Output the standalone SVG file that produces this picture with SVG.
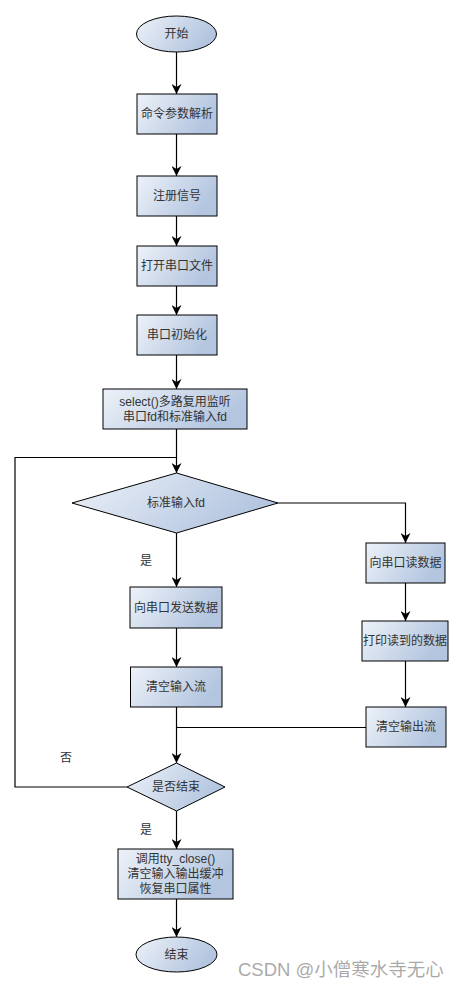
<svg xmlns="http://www.w3.org/2000/svg" width="464" height="992" viewBox="0 0 464 992">
<defs>
<linearGradient id="g" x1="0" y1="0" x2="1" y2="0.35">
<stop offset="0" stop-color="#edf2f9"/>
<stop offset="1" stop-color="#b3c5df"/>
</linearGradient>
<marker id="arr" viewBox="0 0 10 10" refX="10" refY="5" markerWidth="10" markerHeight="10" markerUnits="userSpaceOnUse" orient="auto">
<path d="M0,0 L10,5 L0,10 L3,5 z" fill="#000"/>
</marker>
<style>
.n{fill:url(#g);stroke:#000;stroke-width:1}
.t{font-family:"Liberation Sans","Noto Sans CJK SC",sans-serif;font-size:12px;fill:#333;text-anchor:middle;dominant-baseline:central}
.l{font-family:"Liberation Sans","Noto Sans CJK SC",sans-serif;font-size:12px;fill:#333;text-anchor:middle;dominant-baseline:central}
.c{fill:none;stroke:#000;stroke-width:1.2}
.a{marker-end:url(#arr)}
</style>
</defs>
<rect width="464" height="992" fill="#fff"/>
<g id="connectors">
<path class="c a" d="M176.5,52 V94"/>
<path class="c a" d="M176.5,134 V176"/>
<path class="c a" d="M176.5,216 V246"/>
<path class="c a" d="M176.5,286 V315"/>
<path class="c a" d="M176.5,355 V389"/>
<path class="c a" d="M176.5,429 V473"/>
<path class="c a" d="M176.5,533 V587"/>
<path class="c a" d="M278,503 H405.5 V543"/>
<path class="c a" d="M405.5,583 V621"/>
<path class="c a" d="M405.5,661 V707"/>
<path class="c a" d="M176.5,628 V667"/>
<path class="c a" d="M176.5,707 V763"/>
<path class="c" d="M366,727.5 H176.5"/>
<path class="c" d="M127,787 H15 V457.5 H176.5"/>
<path class="c a" d="M176.5,811 V849"/>
<path class="c a" d="M176.5,899 V937"/>
</g>
<g id="start"><ellipse class="n" cx="176.5" cy="34" rx="40" ry="18"/><text class="t" x="176.5" y="34">开始</text></g>
<g id="parse"><rect class="n" x="137" y="94" width="80" height="40"/><text class="t" x="177" y="114">命令参数解析</text></g>
<g id="signal"><rect class="n" x="137" y="176" width="80" height="40"/><text class="t" x="177" y="196">注册信号</text></g>
<g id="open"><rect class="n" x="137" y="246" width="80" height="40"/><text class="t" x="177" y="266">打开串口文件</text></g>
<g id="init"><rect class="n" x="137" y="315" width="80" height="40"/><text class="t" x="177" y="335">串口初始化</text></g>
<g id="select"><rect class="n" x="103" y="389" width="144" height="40"/><text class="t" x="175" y="402">select()多路复用监听</text><text class="t" x="175" y="417">串口fd和标准输入fd</text></g>
<g id="stdin"><polygon class="n" points="176.5,473 278,503 176.5,533 72,503"/><text class="t" x="176" y="503">标准输入fd</text></g>
<g id="send"><rect class="n" x="130" y="587" width="92" height="41"/><text class="t" x="176" y="607.5">向串口发送数据</text></g>
<g id="read"><rect class="n" x="366" y="543" width="79" height="40"/><text class="t" x="405.5" y="563">向串口读数据</text></g>
<g id="print"><rect class="n" x="362" y="621" width="86" height="40"/><text class="t" x="405" y="641">打印读到的数据</text></g>
<g id="clearin"><rect class="n" x="130.5" y="667" width="91.5" height="40"/><text class="t" x="176" y="687">清空输入流</text></g>
<g id="clearout"><rect class="n" x="366" y="707" width="80" height="40"/><text class="t" x="406" y="727">清空输出流</text></g>
<g id="isend"><polygon class="n" points="176.5,763 225,787 176.5,811 127,787"/><text class="t" x="176" y="787">是否结束</text></g>
<g id="close"><rect class="n" x="118" y="849" width="115" height="50"/><text class="t" x="175.5" y="859">调用tty_close()</text><text class="t" x="175.5" y="874">清空输入输出缓冲</text><text class="t" x="175.5" y="889">恢复串口属性</text></g>
<g id="end"><ellipse class="n" cx="176.5" cy="954.5" rx="40.5" ry="17.5"/><text class="t" x="176.5" y="954.5">结束</text></g>
<g id="labels">
<text class="l" x="146" y="561">是</text>
<text class="l" x="66" y="758">否</text>
<text class="l" x="146" y="830">是</text>
</g>
<text x="238" y="976" font-family="Liberation Sans,Noto Sans CJK SC,sans-serif" font-size="18.5" fill="#9a9a9a" fill-opacity="0.85">CSDN @小僧寒水寺无心</text>
</svg>
